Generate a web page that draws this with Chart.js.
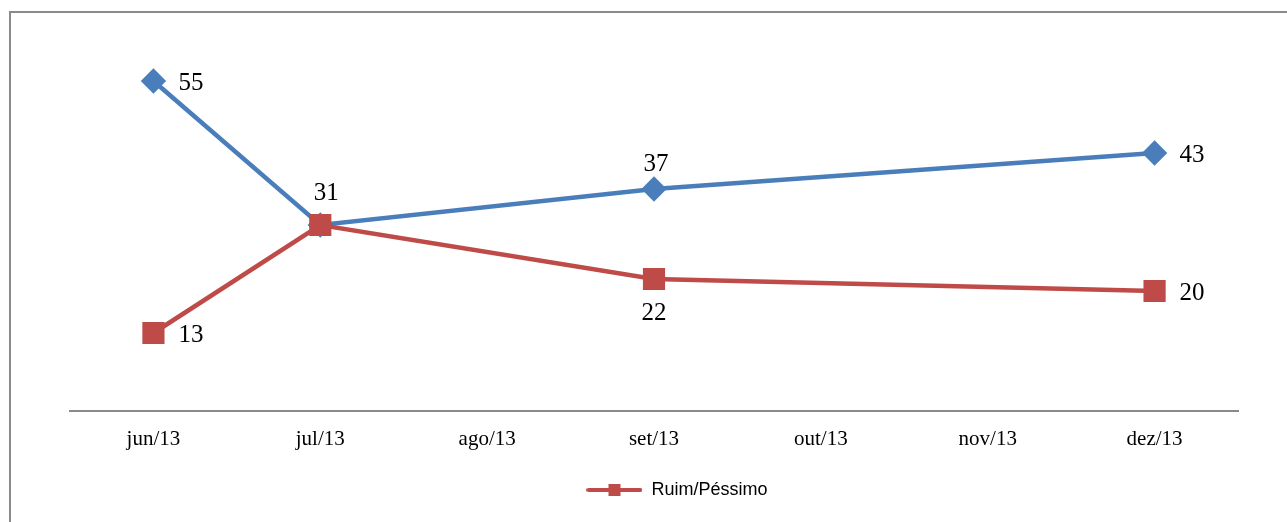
<!DOCTYPE html>
<html>
<head>
<meta charset="utf-8">
<script src="https://cdn.jsdelivr.net/npm/chart.js@4/dist/chart.umd.min.js"></script>
<style>
  html, body { margin: 0; padding: 0; background: #fff; }
  #wrap { width: 1287px; height: 522px; position: relative; }
</style>
</head>
<body>
<div id="wrap"><canvas id="c" width="1287" height="522"></canvas></div>
<script>
// Avaliação mensal (%)
const months = ['jun/13', 'jul/13', 'ago/13', 'set/13', 'out/13', 'nov/13', 'dez/13'];
const otimoBom = [55, 31, null, 37, null, null, 43];
const ruimPessimo = [13, 31, null, 22, null, null, 20];

const BLUE = '#4a7ebb';
const RED = '#be4b48';

// Legend symbol: line with a square in the middle
function legendSymbol(color) {
  const cv = document.createElement('canvas');
  cv.width = 56; cv.height = 14;
  const g = cv.getContext('2d');
  g.strokeStyle = color; g.lineWidth = 4; g.lineCap = 'round';
  g.beginPath(); g.moveTo(2, 7); g.lineTo(54, 7); g.stroke();
  g.fillStyle = color; g.fillRect(22, 1, 12, 12);
  return cv;
}

// Outer frame (left and top edges)
const framePlugin = {
  id: 'frame',
  beforeDraw(chart) {
    const ctx = chart.ctx;
    ctx.save();
    ctx.fillStyle = '#fff';
    ctx.fillRect(0, 0, chart.width, chart.height);
    ctx.strokeStyle = '#8a8a8a';
    ctx.lineWidth = 2;
    ctx.beginPath();
    ctx.moveTo(10, chart.height);
    ctx.lineTo(10, 12);
    ctx.lineTo(chart.width, 12);
    ctx.stroke();
    ctx.restore();
  }
};

// Value labels next to points
const valueLabels = {
  id: 'valueLabels',
  afterDatasetsDraw(chart) {
    const ctx = chart.ctx;
    ctx.save();
    ctx.font = '25px "Liberation Serif", "Times New Roman", serif';
    ctx.fillStyle = '#000';
    chart.data.datasets.forEach((ds, di) => {
      const meta = chart.getDatasetMeta(di);
      meta.data.forEach((pt, i) => {
        const v = ds.data[i];
        const place = ds.labelPlace[i];
        if (v === null || !place) return;
        let x = pt.x, y = pt.y;
        if (place === 'right') { ctx.textAlign = 'left'; x += 25; }
        else if (place === 'above') { ctx.textAlign = 'center'; x += 6; y -= 34; }
        else if (place === 'aboveS') { ctx.textAlign = 'center'; x += 2; y -= 27; }
        else if (place === 'below') { ctx.textAlign = 'center'; y += 32; }
        ctx.textBaseline = 'middle';
        ctx.fillText(String(v), x, y + 2);
      });
    });
    ctx.restore();
  }
};

new Chart(document.getElementById('c'), {
  type: 'line',
  data: {
    labels: months,
    datasets: [
      {
        label: 'Ótimo/Bom',
        data: otimoBom,
        order: 1,
        borderColor: BLUE,
        backgroundColor: BLUE,
        borderWidth: 4.5,
        pointStyle: 'rectRot',
        pointRadius: 9.5,
        pointHoverRadius: 9.5,
        spanGaps: true,
        labelPlace: ['right', null, null, 'aboveS', null, null, 'right']
      },
      {
        label: 'Ruim/Péssimo',
        data: ruimPessimo,
        order: 0,
        borderColor: RED,
        backgroundColor: RED,
        borderWidth: 4.5,
        pointStyle: 'rect',
        pointRadius: 12.5,
        pointHoverRadius: 12.5,
        spanGaps: true,
        labelPlace: ['right', 'above', null, 'below', null, null, 'right']
      }
    ]
  },
  options: {
    responsive: false,
    animation: false,
    events: [],
    layout: { padding: { left: 70, right: 3, top: 51, bottom: 13 } },
    scales: {
      x: {
        offset: true,
        grid: { display: false },
        border: { display: true, color: '#8a8a8a', width: 2 },
        ticks: {
          color: '#000',
          padding: 8,
          font: { family: '"Liberation Serif", "Times New Roman", serif', size: 21 }
        },
        afterFit(scale) { scale.height = 60; }
      },
      y: {
        position: 'right',
        min: 0,
        max: 60,
        grid: { display: false },
        border: { display: false },
        ticks: { display: false },
        afterFit(scale) { scale.width = 46; }
      }
    },
    plugins: {
      tooltip: { enabled: false },
      legend: {
        position: 'bottom',
        labels: {
          filter: (item) => item.text === 'Ruim/Péssimo',
          usePointStyle: true,
          pointStyle: legendSymbol(RED),
          pointStyleWidth: 56,
          boxHeight: 14,
          padding: 10,
          color: '#000',
          font: { family: '"Liberation Sans", Arial, sans-serif', size: 18 }
        }
      }
    }
  },
  plugins: [framePlugin, valueLabels]
});
</script>
</body>
</html>
